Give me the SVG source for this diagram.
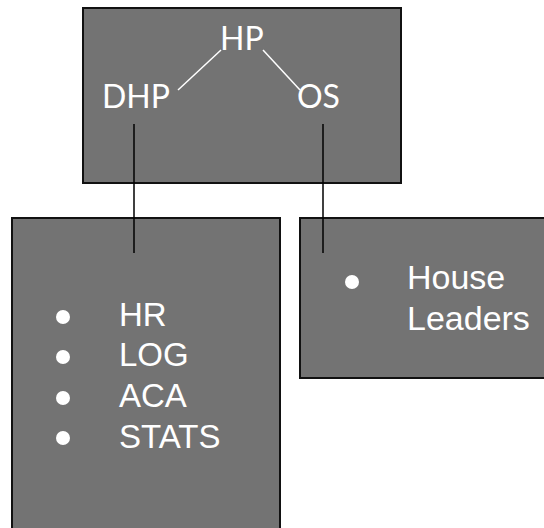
<svg xmlns="http://www.w3.org/2000/svg" width="544" height="528" viewBox="0 0 544 528">
<style>
.box{fill:#737373;stroke:#111;stroke-width:2}
.t{fill:#fff;font-family:Lato,"Liberation Sans",sans-serif;font-size:32px}
.l{fill:#fff;font-family:"Liberation Sans",Arial,sans-serif;font-size:33px}
.w{stroke:#fff;stroke-width:1.5;fill:none}
.k{stroke:#000;stroke-width:1.5;fill:none}
.b{fill:#fff}
</style>
<rect width="544" height="528" fill="#fff"/>
<g id="top">
<rect class="box" x="83" y="8" width="318" height="175"/>
<text class="t" x="220" y="50">HP</text>
<text class="t" x="102" y="108">DHP</text>
<text class="t" x="297" y="108">OS</text>
<line class="w" x1="178" y1="90" x2="221" y2="50"/>
<line class="w" x1="263" y1="50" x2="300" y2="90"/>
</g>
<g id="left">
<rect class="box" x="12" y="218" width="268" height="330"/>
<circle class="b" cx="63" cy="317" r="7"/>
<circle class="b" cx="63" cy="357" r="7"/>
<circle class="b" cx="63" cy="398" r="7"/>
<circle class="b" cx="63" cy="438" r="7"/>
<text class="l" x="119" y="326">HR</text>
<text class="l" x="119" y="366">LOG</text>
<text class="l" x="119" y="407">ACA</text>
<text class="l" x="119" y="448">STATS</text>
</g>
<g id="right">
<rect class="box" x="300" y="218" width="260" height="160"/>
<circle class="b" cx="352" cy="282" r="7"/>
<text class="l" x="407" y="289" style="font-size:34px">House</text>
<text class="l" x="407" y="330" style="font-size:34px">Leaders</text>
</g>
<g id="connectors">
<line class="k" x1="134" y1="124" x2="134" y2="253"/>
<line class="k" x1="323" y1="124" x2="323" y2="253"/>
</g>
</svg>
